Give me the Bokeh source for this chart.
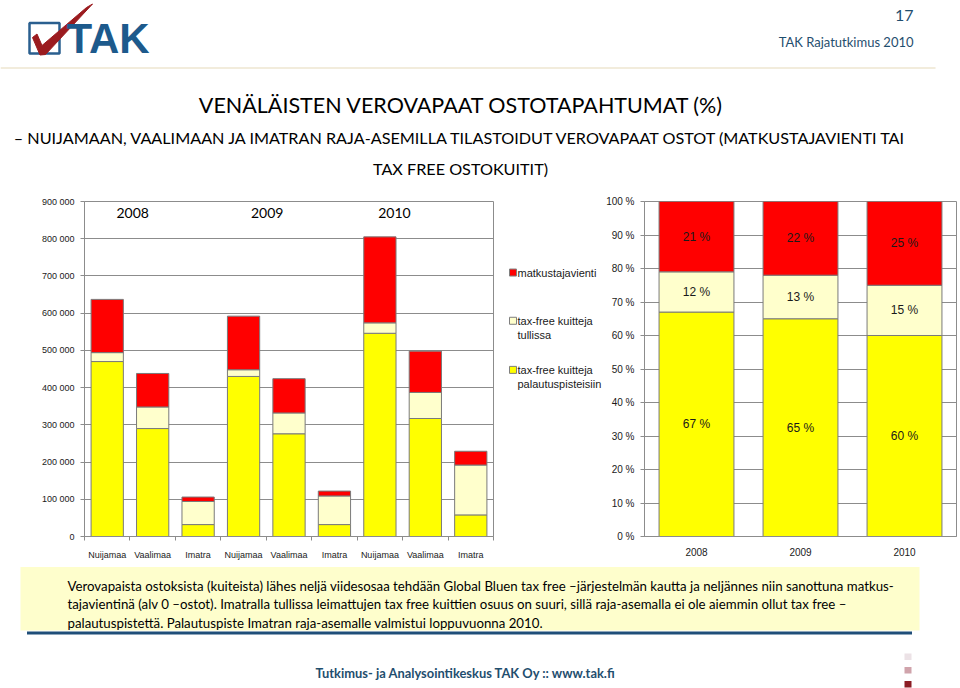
import numpy as np
from bokeh.plotting import figure
from bokeh.layouts import column, row
from bokeh.models import ColumnDataSource, FixedTicker, FactorRange, Range1d
from bokeh.core.properties import value
from bokeh.embed import file_html
from bokeh.resources import INLINE

# ---------------- data ----------------
years = ["2008", "2009", "2010"]
stations = ["Nuijamaa", "Vaalimaa", "Imatra"]

# series order: bottom -> top
series_names = ["tax-free kuitteja\npalautuspisteisiin", "tax-free kuitteja\ntullissa", "matkustajavienti"]
series_colors = ["#ffff00", "#ffffcc", "#ff0000"]

# left chart (2008 N,V,I | 2009 N,V,I | 2010 N,V,I)
refund_points = [470000, 290000, 32000, 430000, 276000, 32000, 546000, 317000, 58000]
customs_stamped = [24000, 58000, 62000, 18000, 56000, 77000, 28000, 70000, 134000]
traveller_export = [143000, 90000, 12000, 144000, 92000, 13000, 231000, 111000, 37000]

# right chart shares (%)
share_refund = [67, 65, 60]
share_customs = [12, 13, 15]
share_export = [21, 22, 25]

left_ticks = list(range(0, 900001, 100000))
right_ticks = list(range(0, 101, 10))

title_1 = "VENÄLÄISTEN VEROVAPAAT OSTOTAPAHTUMAT (%)"
title_2 = "– NUIJAMAAN, VAALIMAAN JA IMATRAN RAJA-ASEMILLA TILASTOIDUT VEROVAPAAT OSTOT (MATKUSTAJAVIENTI TAI"
title_3 = "TAX FREE OSTOKUITIT)"
note_lines = [
    "Verovapaista ostoksista (kuiteista) lähes neljä viidesosaa tehdään Global Bluen tax free –järjestelmän kautta ja neljännes niin sanottuna matkus-",
    "tajavientinä (alv 0 –ostot). Imatralla tullissa leimattujen tax free kuittien osuus on suuri, sillä raja-asemalla ei ole aiemmin ollut tax free –",
    "palautuspistettä. Palautuspiste Imatran raja-asemalle valmistui loppuvuonna 2010.",
]
footer_text = "Tutkimus- ja Analysointikeskus TAK Oy :: www.tak.fi"
page_no = "17"
header_right = "TAK Rajatutkimus 2010"

GRAY = "#8c8c8c"
BAR_LINE = "#7a7a7a"
TEAL = "#1f4e6e"
CAL = value("Lato")
ARIAL = "Liberation Sans"


def blank(width, height, x0, x1, y0, y1):
    f = figure(width=width, height=height, x_range=Range1d(x0, x1), y_range=Range1d(y0, y1),
               output_backend="svg", toolbar_location=None, x_axis_type=None, y_axis_type=None,
               min_border=0)
    f.outline_line_color = None
    f.grid.visible = False
    return f


# ---------------- header ----------------
header = blank(960, 180, 0, 960, 180, 0)
header.quad(left=29, right=59, top=22.5, bottom=53, fill_color="white", line_color="#2a5f8f", line_width=2.5)
header.patch([32, 36.5, 41.5, 86, 92, 45, 39.5], [37, 33.5, 45, 7, 3.5, 54, 54.5], color="#9b1b1f")
header.text(x=[66], y=[38], text=["TAK"], text_font=value("Liberation Sans"), text_font_style="bold",
            text_font_size="42px", text_color="#1d5a8c", text_baseline="middle", text_align="left")
header.text(x=[913], y=[15], text=[page_no], text_font=CAL, text_font_size="16px", text_color=TEAL,
            text_baseline="middle", text_align="right")
header.text(x=[913], y=[41], text=[header_right], text_font=CAL, text_font_size="13px", text_color=TEAL,
            text_baseline="middle", text_align="right")
header.segment(x0=[0], y0=[67.5], x1=[935], y1=[67.5], line_color="#f2ecdc", line_width=2)
header.text(x=[461], y=[104], text=[title_1], text_font=CAL, text_font_size="21.5px", text_color="black",
            text_baseline="middle", text_align="center")
header.text(x=[461], y=[137], text=[title_2], text_font=CAL, text_font_size="16.2px", text_color="black",
            text_baseline="middle", text_align="center")
header.text(x=[460], y=[168], text=[title_3], text_font=CAL, text_font_size="16.2px", text_color="black",
            text_baseline="middle", text_align="center")

# ---------------- left chart ----------------
n = len(refund_points)
x_pos = list(range(n))
station_labels = [s for _ in years for s in stations]
lsrc = ColumnDataSource(dict(x=x_pos, refund=refund_points, customs=customs_stamped, export=traveller_export))

left = figure(width=500, height=382, x_range=Range1d(-0.5, n - 0.5), y_range=Range1d(left_ticks[0], left_ticks[-1]),
              output_backend="svg", toolbar_location=None,
              min_border_left=84, min_border_right=7, min_border_top=21, min_border_bottom=22)
left.vbar_stack(["refund", "customs", "export"], x="x", width=0.71, source=lsrc,
                fill_color=series_colors, line_color=BAR_LINE, line_width=1)

year_offsets = [0.56, 0.52, 0.32]
left.text(x=[3 * i + off for i, off in enumerate(year_offsets)], y=[left_ticks[-1] * 0.965] * len(years),
          text=years, text_font=CAL, text_font_size="14px", text_color="black",
          text_baseline="middle", text_align="center")

left.xaxis.ticker = FixedTicker(ticks=x_pos, minor_ticks=[i - 0.5 for i in range(n + 1)])
left.xaxis.major_label_overrides = {i: s for i, s in enumerate(station_labels)}
left.xaxis.major_tick_out = 0
left.xaxis.major_tick_in = 0
left.xaxis.minor_tick_out = 4
left.xaxis.minor_tick_in = 0
left.xaxis.minor_tick_line_color = GRAY
left.xaxis.axis_line_color = GRAY
left.xaxis.major_label_standoff = 9
left.xaxis.major_label_text_font = ARIAL
left.xaxis.major_label_text_font_size = "9px"
left.xaxis.major_label_text_color = "#1a1a1a"

left.yaxis.ticker = FixedTicker(ticks=left_ticks)
left.yaxis.major_label_overrides = {v: f"{v:,}".replace(",", " ") for v in left_ticks}
left.yaxis.major_tick_out = 4
left.yaxis.major_tick_in = 0
left.yaxis.minor_tick_out = 0
left.yaxis.minor_tick_in = 0
left.yaxis.major_tick_line_color = GRAY
left.yaxis.axis_line_color = GRAY
left.yaxis.major_label_standoff = 6
left.yaxis.major_label_text_font = ARIAL
left.yaxis.major_label_text_font_size = "9px"
left.yaxis.major_label_text_color = "#1a1a1a"

left.xgrid.visible = False
left.ygrid.grid_line_color = GRAY
left.outline_line_color = GRAY

# ---------------- legend panel ----------------
leg = blank(103, 382, 500, 603, 562, 180)
leg_y = [372, 316, 261]  # first-line centres, bottom series -> top series
leg.scatter(x=[512.5] * 3, y=leg_y, marker="square", size=7, fill_color=series_colors, line_color="#7f7f7f",
            line_width=1)
leg.text(x=[517] * 3, y=[v - 6.5 for v in leg_y], text=series_names, text_font=value(ARIAL),
         text_font_size="11px", text_color="#1a1a1a", text_baseline="top", text_align="left",
         text_line_height=1.15)

# ---------------- right chart ----------------
rsrc = ColumnDataSource(dict(year=years, refund=share_refund, customs=share_customs, export=share_export))
right = figure(width=357, height=382, x_range=FactorRange(*years), y_range=Range1d(right_ticks[0], right_ticks[-1]),
               output_backend="svg", toolbar_location=None,
               min_border_left=41, min_border_right=4, min_border_top=12, min_border_bottom=26)
right.vbar_stack(["refund", "customs", "export"], x="year", width=0.72, source=rsrc,
                 fill_color=series_colors, line_color=BAR_LINE, line_width=1)

lab_x, lab_y, lab_t = [], [], []
for i, yr in enumerate(years):
    base = 0
    for s in (share_refund, share_customs, share_export):
        lab_x.append(yr)
        lab_y.append(base + s[i] / 2)
        lab_t.append(f"{s[i]} %")
        base += s[i]
right.text(x=lab_x, y=lab_y, text=lab_t, text_font=value(ARIAL), text_font_size="12px", text_color="#1a1a1a",
           text_baseline="middle", text_align="center")

right.xaxis.major_tick_out = 0
right.xaxis.major_tick_in = 0
right.xaxis.axis_line_color = GRAY
right.xaxis.major_label_standoff = 11
right.xaxis.major_label_text_font = ARIAL
right.xaxis.major_label_text_font_size = "10px"
right.xaxis.major_label_text_color = "#1a1a1a"

right.yaxis.ticker = FixedTicker(ticks=right_ticks)
right.yaxis.major_label_overrides = {v: f"{v} %" for v in right_ticks}
right.yaxis.major_tick_out = 4
right.yaxis.major_tick_in = 0
right.yaxis.minor_tick_out = 0
right.yaxis.minor_tick_in = 0
right.yaxis.major_tick_line_color = GRAY
right.yaxis.axis_line_color = GRAY
right.yaxis.major_label_standoff = 6
right.yaxis.major_label_text_font = ARIAL
right.yaxis.major_label_text_font_size = "10px"
right.yaxis.major_label_text_color = "#1a1a1a"

right.xgrid.visible = False
right.ygrid.grid_line_color = GRAY
right.outline_line_color = GRAY

# ---------------- bottom ----------------
bottom = blank(960, 126, 0, 960, 688, 562)
bottom.quad(left=20, right=919, top=566.5, bottom=630, fill_color="#fefecc", line_color=None)
bottom.segment(x0=[26.5], y0=[632.5], x1=[911.5], y1=[632.5], line_color="#1f4e79", line_width=3)
bottom.text(x=[67] * len(note_lines), y=[585, 603.5, 622], text=note_lines, text_font=CAL,
            text_font_size="13.25px", text_color="black", text_baseline="middle", text_align="left")
bottom.text(x=[315], y=[672], text=[footer_text], text_font=CAL, text_font_style="bold",
            text_font_size="12.9px", text_color=TEAL, text_baseline="middle", text_align="left")
bottom.quad(left=[904, 904, 904], right=[911, 911, 911], top=[653, 666.5, 680.5], bottom=[659.5, 673, 687],
            fill_color=["#ece2e6", "#d0a3ab", "#8c1c24"], line_color=None)

layout = column(header, row(left, leg, right), bottom)
open("out.html", "w").write(file_html(layout, INLINE))
